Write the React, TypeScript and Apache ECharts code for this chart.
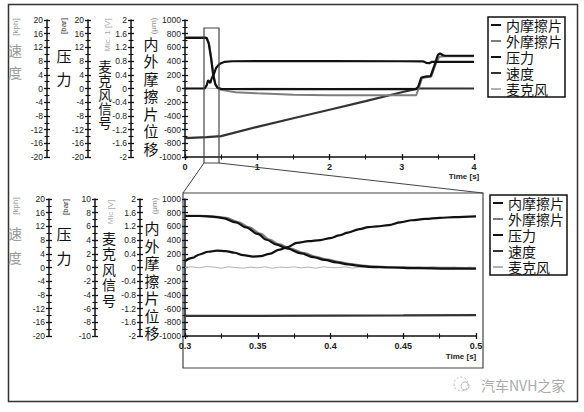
import React, { useEffect, useRef } from "react";
import * as echarts from "echarts";

// ---------- data ----------
const seriesNames = ["内摩擦片", "外摩擦片", "压力", "速度", "麦克风"];
const seriesColors = ["#111111", "#7d7d7d", "#111111", "#333333", "#b3b3b3"];

// axis ranges [min, max, interval]
const dispRange = [-1000, 1000, 200];
const micRange = [-2, 2, 0.4];
const pressTopRange = [-20, 20, 4];
const pressBottomRange = [-10, 10, 2];
const speedRange = [-20, 20, 4];
const topTimeRange = [0, 4, 1];
const bottomTimeRange = [0.3, 0.5, 0.05];

// top panel (0 - 4 s)
const topInner = [
  [0, 740], [0.28, 740], [0.3, 735], [0.33, 650], [0.36, 450], [0.39, 200], [0.42, 60],
  [0.45, 10], [0.5, -5], [1, -8], [2, -10], [3, -10], [3.2, -10], [3.23, 30], [3.27, 160],
  [3.32, 172], [3.4, 180], [3.45, 330], [3.5, 490], [3.53, 514], [3.57, 485], [3.6, 478], [4, 478],
];
const topOuter = [
  [0, 745], [0.28, 745], [0.3, 742], [0.33, 665], [0.36, 470], [0.39, 220], [0.42, 70],
  [0.45, 15], [0.5, -20], [0.7, -55], [1, -70], [1.5, -90], [2, -100], [3, -100], [3.2, -98],
  [3.24, 20], [3.28, 150], [3.34, 165], [3.41, 175], [3.46, 330], [3.52, 465], [3.6, 470], [4, 470],
];
const topPressure = [
  [0, 0], [0.27, 0], [0.3, 0.9], [0.32, 2.4], [0.35, 1.6], [0.37, 3.0], [0.4, 4.2],
  [0.43, 6.0], [0.47, 7.0], [0.5, 7.4], [0.55, 7.8], [0.65, 7.95], [1, 8.0], [2, 8.0],
  [3, 7.95], [3.3, 7.9], [3.34, 7.5], [3.38, 7.4], [3.42, 7.8], [3.5, 7.8], [4, 7.8],
];
const topSpeed = [
  [0, -14.5], [0.3, -14.2], [0.5, -13.9], [1, -11.2], [1.5, -8.7], [2, -6.2], [2.5, -3.7],
  [3, -1.1], [3.2, -0.1], [3.25, 0], [4, 0],
];
const topMic = [
  [0, 0], [0.3, 0.01], [0.5, -0.01], [1, 0.01], [2, 0], [3, 0.01], [4, 0],
];

// bottom panel (0.3 - 0.5 s)
const bottomInner = [
  [0.3, 752], [0.31, 752], [0.32, 740], [0.326, 722], [0.335, 660], [0.342, 585], [0.35, 490],
  [0.356, 405], [0.363, 335], [0.37, 278], [0.38, 205], [0.388, 152], [0.396, 110],
  [0.404, 75], [0.412, 46], [0.42, 25], [0.428, 10], [0.44, 0], [0.46, -10], [0.48, -15], [0.5, -18],
];
const bottomOuter = [
  [0.3, 756], [0.31, 756], [0.32, 746], [0.328, 726], [0.337, 662], [0.344, 588], [0.352, 493],
  [0.358, 408], [0.365, 338], [0.372, 282], [0.382, 212], [0.39, 158], [0.398, 116],
  [0.406, 81], [0.414, 52], [0.422, 30], [0.43, 15], [0.44, 6], [0.46, 0], [0.48, -4], [0.5, -8],
];
const bottomPressure = [
  [0.3, 0.95], [0.305, 1.4], [0.31, 1.9], [0.316, 2.3], [0.322, 2.45], [0.328, 2.4],
  [0.334, 2.15], [0.34, 1.8], [0.347, 1.6], [0.352, 1.65], [0.358, 2.0], [0.365, 2.6],
  [0.37, 2.95], [0.377, 3.6], [0.385, 3.85], [0.393, 4.0], [0.4, 4.3], [0.406, 4.7],
  [0.412, 5.1], [0.42, 5.6], [0.426, 5.9], [0.432, 6.0], [0.44, 6.2], [0.448, 6.6],
  [0.456, 6.9], [0.465, 7.1], [0.475, 7.25], [0.485, 7.35], [0.5, 7.45],
];
const bottomSpeed = [
  [0.3, -14.15], [0.35, -14.1], [0.4, -14.05], [0.45, -14.0], [0.5, -13.9],
];
const bottomMic = [
  [0.3, 0.0], [0.305, 0.02], [0.31, -0.01], [0.315, 0.03], [0.32, 0.01], [0.325, -0.02],
  [0.33, 0.02], [0.335, 0.0], [0.34, -0.02], [0.345, 0.01], [0.35, -0.01], [0.355, 0.02],
  [0.36, -0.02], [0.365, 0.01], [0.37, 0.0], [0.375, 0.02], [0.38, -0.01], [0.385, 0.01],
  [0.39, -0.02], [0.395, 0.02], [0.4, 0.0], [0.405, -0.01], [0.41, 0.02], [0.415, -0.02],
  [0.42, 0.01], [0.425, 0.0], [0.43, -0.02], [0.435, 0.01], [0.44, -0.01], [0.445, 0.02],
  [0.45, 0.0], [0.455, -0.02], [0.46, 0.01], [0.465, -0.01], [0.47, 0.02], [0.475, 0.0],
  [0.48, -0.01], [0.485, 0.01], [0.49, -0.02], [0.495, 0.01], [0.5, 0.0],
];

// ---------- helpers ----------
const AXIS_COLOR = "#111";
const LABEL_FONT = "'Liberation Sans', Arial, sans-serif";
const CJK_FONT = "'Noto Sans CJK SC', sans-serif";

const fmt1 = (v: number) => String(Math.round(v * 10) / 10);
const fmt2 = (v: number) => String(Math.round(v * 100) / 100);

function yPair(gridIndex: number, offset: number, range: number[], formatter: (v: number) => string) {
  const base = {
    type: "value",
    gridIndex,
    position: "left",
    offset,
    min: range[0],
    max: range[1],
    interval: range[2],
    splitLine: { show: false },
    minorSplitLine: { show: false },
  };
  const main = {
    ...base,
    axisLine: { show: true, onZero: false, lineStyle: { color: AXIS_COLOR, width: 1.5 } },
    axisTick: { show: true, inside: false, length: 3, lineStyle: { color: AXIS_COLOR, width: 1.3 } },
    minorTick: { show: true, splitNumber: 2, length: 2.5, lineStyle: { color: AXIS_COLOR, width: 1.1 } },
    axisLabel: { show: true, fontSize: 8.5, color: "#222", margin: 4, fontFamily: LABEL_FONT, formatter },
  };
  const dup = {
    ...base,
    axisLine: { show: false, onZero: false },
    axisTick: { show: true, inside: true, length: 3, lineStyle: { color: AXIS_COLOR, width: 1.3 } },
    minorTick: { show: true, splitNumber: 2, length: 2.5, lineStyle: { color: AXIS_COLOR, width: 1.1 } },
    axisLabel: { show: false },
  };
  return [main, dup];
}

function xPair(gridIndex: number, range: number[], formatter: (v: number) => string) {
  const base = {
    type: "value",
    gridIndex,
    position: "bottom",
    min: range[0],
    max: range[1],
    interval: range[2],
    splitLine: { show: false },
    minorSplitLine: { show: false },
  };
  const main = {
    ...base,
    axisLine: { show: true, onZero: false, lineStyle: { color: AXIS_COLOR, width: 1.5 } },
    axisTick: { show: true, inside: false, length: 3, lineStyle: { color: AXIS_COLOR, width: 1.3 } },
    minorTick: { show: true, splitNumber: 2, length: 2.5, lineStyle: { color: AXIS_COLOR, width: 1.1 } },
    axisLabel: { show: true, fontSize: 9, fontWeight: "bold", color: "#222", margin: 5, fontFamily: LABEL_FONT, formatter },
  };
  const dup = {
    ...base,
    axisLine: { show: false, onZero: false },
    axisTick: { show: true, inside: true, length: 3, lineStyle: { color: AXIS_COLOR, width: 1.3 } },
    minorTick: { show: true, splitNumber: 2, length: 2.5, lineStyle: { color: AXIS_COLOR, width: 1.1 } },
    axisLabel: { show: false },
  };
  return [main, dup];
}

// vertical stacked CJK title: one text element per character
function vText(x: number, firstCenter: number, text: string, fontSize: number, step: number, fill: string) {
  return text.split("").map((ch, i) => ({
    type: "text",
    x,
    y: firstCenter + i * step,
    silent: true,
    style: {
      text: ch,
      fontSize,
      fontFamily: CJK_FONT,
      fill,
      align: "center",
      verticalAlign: "middle",
      textAlign: "center",
      textVerticalAlign: "middle",
    },
  }));
}

function rText(x: number, y: number, text: string, fill: string) {
  return {
    type: "text",
    x,
    y,
    rotation: Math.PI / 2,
    silent: true,
    style: {
      text,
      fontSize: 8,
      fontFamily: LABEL_FONT,
      fill,
      align: "center",
      verticalAlign: "middle",
      textAlign: "center",
      textVerticalAlign: "middle",
    },
  };
}

function lineSeries(name: string, xi: number, yi: number, data: number[][], width: number, z: number, smooth: boolean) {
  const idx = seriesNames.indexOf(name);
  return {
    name,
    type: "line",
    xAxisIndex: xi,
    yAxisIndex: yi,
    data,
    symbol: "none",
    smooth: smooth ? 0.35 : false,
    smoothMonotone: "x",
    z,
    lineStyle: { color: seriesColors[idx], width },
    itemStyle: { color: seriesColors[idx] },
  };
}

function legendAt(left: number, top: number) {
  return {
    data: seriesNames,
    orient: "vertical",
    left,
    top,
    icon: "rect",
    itemWidth: 10,
    itemHeight: 2,
    itemGap: 2,
    padding: [1, 3, 1, 3],
    borderColor: "#111",
    borderWidth: 1.5,
    backgroundColor: "#fff",
    selectedMode: false,
    textStyle: { fontSize: 14, lineHeight: 14, color: "#111", fontFamily: CJK_FONT },
  };
}

export default function App() {
  const ref = useRef<HTMLDivElement>(null);

  useEffect(() => {
    if (!ref.current) return;
    const chart = echarts.init(ref.current, undefined, { renderer: "svg" });

    const [yDisp0, yDisp0d] = yPair(0, 0, dispRange, (v) => String(v));
    const [yMic0, yMic0d] = yPair(0, 54, micRange, fmt1);
    const [yPress0, yPress0d] = yPair(0, 97, pressTopRange, (v) => String(v));
    const [ySpeed0, ySpeed0d] = yPair(0, 138, speedRange, (v) => String(v));
    const [yDisp1, yDisp1d] = yPair(1, 0, dispRange, (v) => String(v));
    const [yMic1, yMic1d] = yPair(1, 45, micRange, fmt1);
    const [yPress1, yPress1d] = yPair(1, 90, pressBottomRange, (v) => String(v));
    const [ySpeed1, ySpeed1d] = yPair(1, 136, speedRange, (v) => String(v));

    const [xTop, xTopD] = xPair(0, topTimeRange, (v) => String(v));
    const [xBot, xBotD] = xPair(1, bottomTimeRange, fmt2);

    const option: any = {
      animation: false,
      backgroundColor: "#fff",
      grid: [
        { left: 185, top: 20, width: 289, height: 137 },
        { left: 185, top: 199, width: 291, height: 137 },
      ],
      xAxis: [xTop, xBot, xTopD, xBotD],
      yAxis: [
        yDisp0, yMic0, yPress0, ySpeed0, yDisp0d, yMic0d, yPress0d, ySpeed0d,
        yDisp1, yMic1, yPress1, ySpeed1, yDisp1d, yMic1d, yPress1d, ySpeed1d,
      ],
      legend: [legendAt(488, 17), legendAt(490, 195)],
      series: [
        // top panel
        lineSeries("麦克风", 0, 1, topMic, 1, 2, false),
        lineSeries("速度", 0, 3, topSpeed, 2.2, 3, false),
        lineSeries("外摩擦片", 0, 0, topOuter, 2, 4, false),
        lineSeries("内摩擦片", 0, 0, topInner, 2.2, 5, false),
        lineSeries("压力", 0, 2, topPressure, 2.2, 6, false),
        // bottom panel
        lineSeries("麦克风", 1, 9, bottomMic, 1, 2, false),
        lineSeries("速度", 1, 11, bottomSpeed, 2.2, 3, false),
        lineSeries("外摩擦片", 1, 8, bottomOuter, 2, 4, true),
        lineSeries("内摩擦片", 1, 8, bottomInner, 2.2, 5, true),
        lineSeries("压力", 1, 10, bottomPressure, 2.2, 6, true),
      ],
      graphic: {
        elements: [
          // outer frame
          { type: "rect", silent: true, shape: { x: 8.5, y: 4.5, width: 569, height: 397 }, style: { fill: "none", stroke: "#333", lineWidth: 1.5 } },
          // zoom window in top panel
          { type: "rect", silent: true, z: 10, shape: { x: 204, y: 28, width: 15, height: 135 }, style: { fill: "none", stroke: "#444", lineWidth: 1.2 } },
          { type: "line", silent: true, shape: { x1: 204, y1: 163, x2: 183, y2: 193 }, style: { stroke: "#444", lineWidth: 1 } },
          { type: "line", silent: true, shape: { x1: 219, y1: 163, x2: 483, y2: 193 }, style: { stroke: "#444", lineWidth: 1 } },
          // magnified box
          { type: "rect", silent: true, shape: { x: 183, y: 193, width: 300, height: 175 }, style: { fill: "none", stroke: "#444", lineWidth: 1.2 } },
          // top panel axis titles
          rText(15, 27, "[kph]", "#999"),
          ...vText(15, 50, "速度", 14, 22, "#999"),
          rText(63, 26, "[bar]", "#333"),
          ...vText(64, 55, "压力", 15, 23, "#111"),
          rText(107, 35, "Mic. 1 [V]", "#aaa"),
          ...vText(105, 66, "麦克风信号", 13.5, 14, "#111"),
          rText(153, 26, "(μm)", "#888"),
          ...vText(151, 43, "内外摩擦片位移", 15, 17.5, "#111"),
          // bottom panel axis titles
          rText(15, 206, "[kph]", "#999"),
          ...vText(15, 233, "速度", 14, 24, "#999"),
          rText(65, 207, "[bar]", "#333"),
          ...vText(64, 233, "压力", 15, 24, "#111"),
          rText(110, 212, "Mic [V]", "#aaa"),
          ...vText(109, 237.5, "麦克风信号", 14, 15.6, "#111"),
          rText(154, 206, "(μm)", "#888"),
          ...vText(152, 227.5, "内外摩擦片位移", 15, 17.5, "#111"),
          // time labels
          { type: "text", silent: true, x: 464, y: 176, style: { text: "Time [s]", fontSize: 8, fontWeight: "bold", fontFamily: LABEL_FONT, fill: "#222", align: "center", verticalAlign: "middle", textAlign: "center", textVerticalAlign: "middle" } },
          { type: "text", silent: true, x: 461, y: 356, style: { text: "Time [s]", fontSize: 8, fontWeight: "bold", fontFamily: LABEL_FONT, fill: "#222", align: "center", verticalAlign: "middle", textAlign: "center", textVerticalAlign: "middle" } },
          // watermark
          { type: "circle", silent: true, shape: { cx: 461, cy: 384, r: 7 }, style: { fill: "none", stroke: "#bbb", lineWidth: 1, lineDash: [2, 2] } },
          { type: "circle", silent: true, shape: { cx: 465, cy: 386, r: 4 }, style: { fill: "none", stroke: "#bbb", lineWidth: 1 } },
          { type: "text", silent: true, x: 481, y: 385, style: { text: "汽车NVH之家", fontSize: 14, fontFamily: CJK_FONT, fill: "#aaa", align: "left", verticalAlign: "middle", textAlign: "left", textVerticalAlign: "middle" } },
        ],
      },
    };

    chart.setOption(option);
    return () => chart.dispose();
  }, []);

  return (
    <div
      ref={ref}
      style={{ position: "absolute", left: 0, top: 0, width: 584, height: 412, background: "#fff" }}
    />
  );
}
